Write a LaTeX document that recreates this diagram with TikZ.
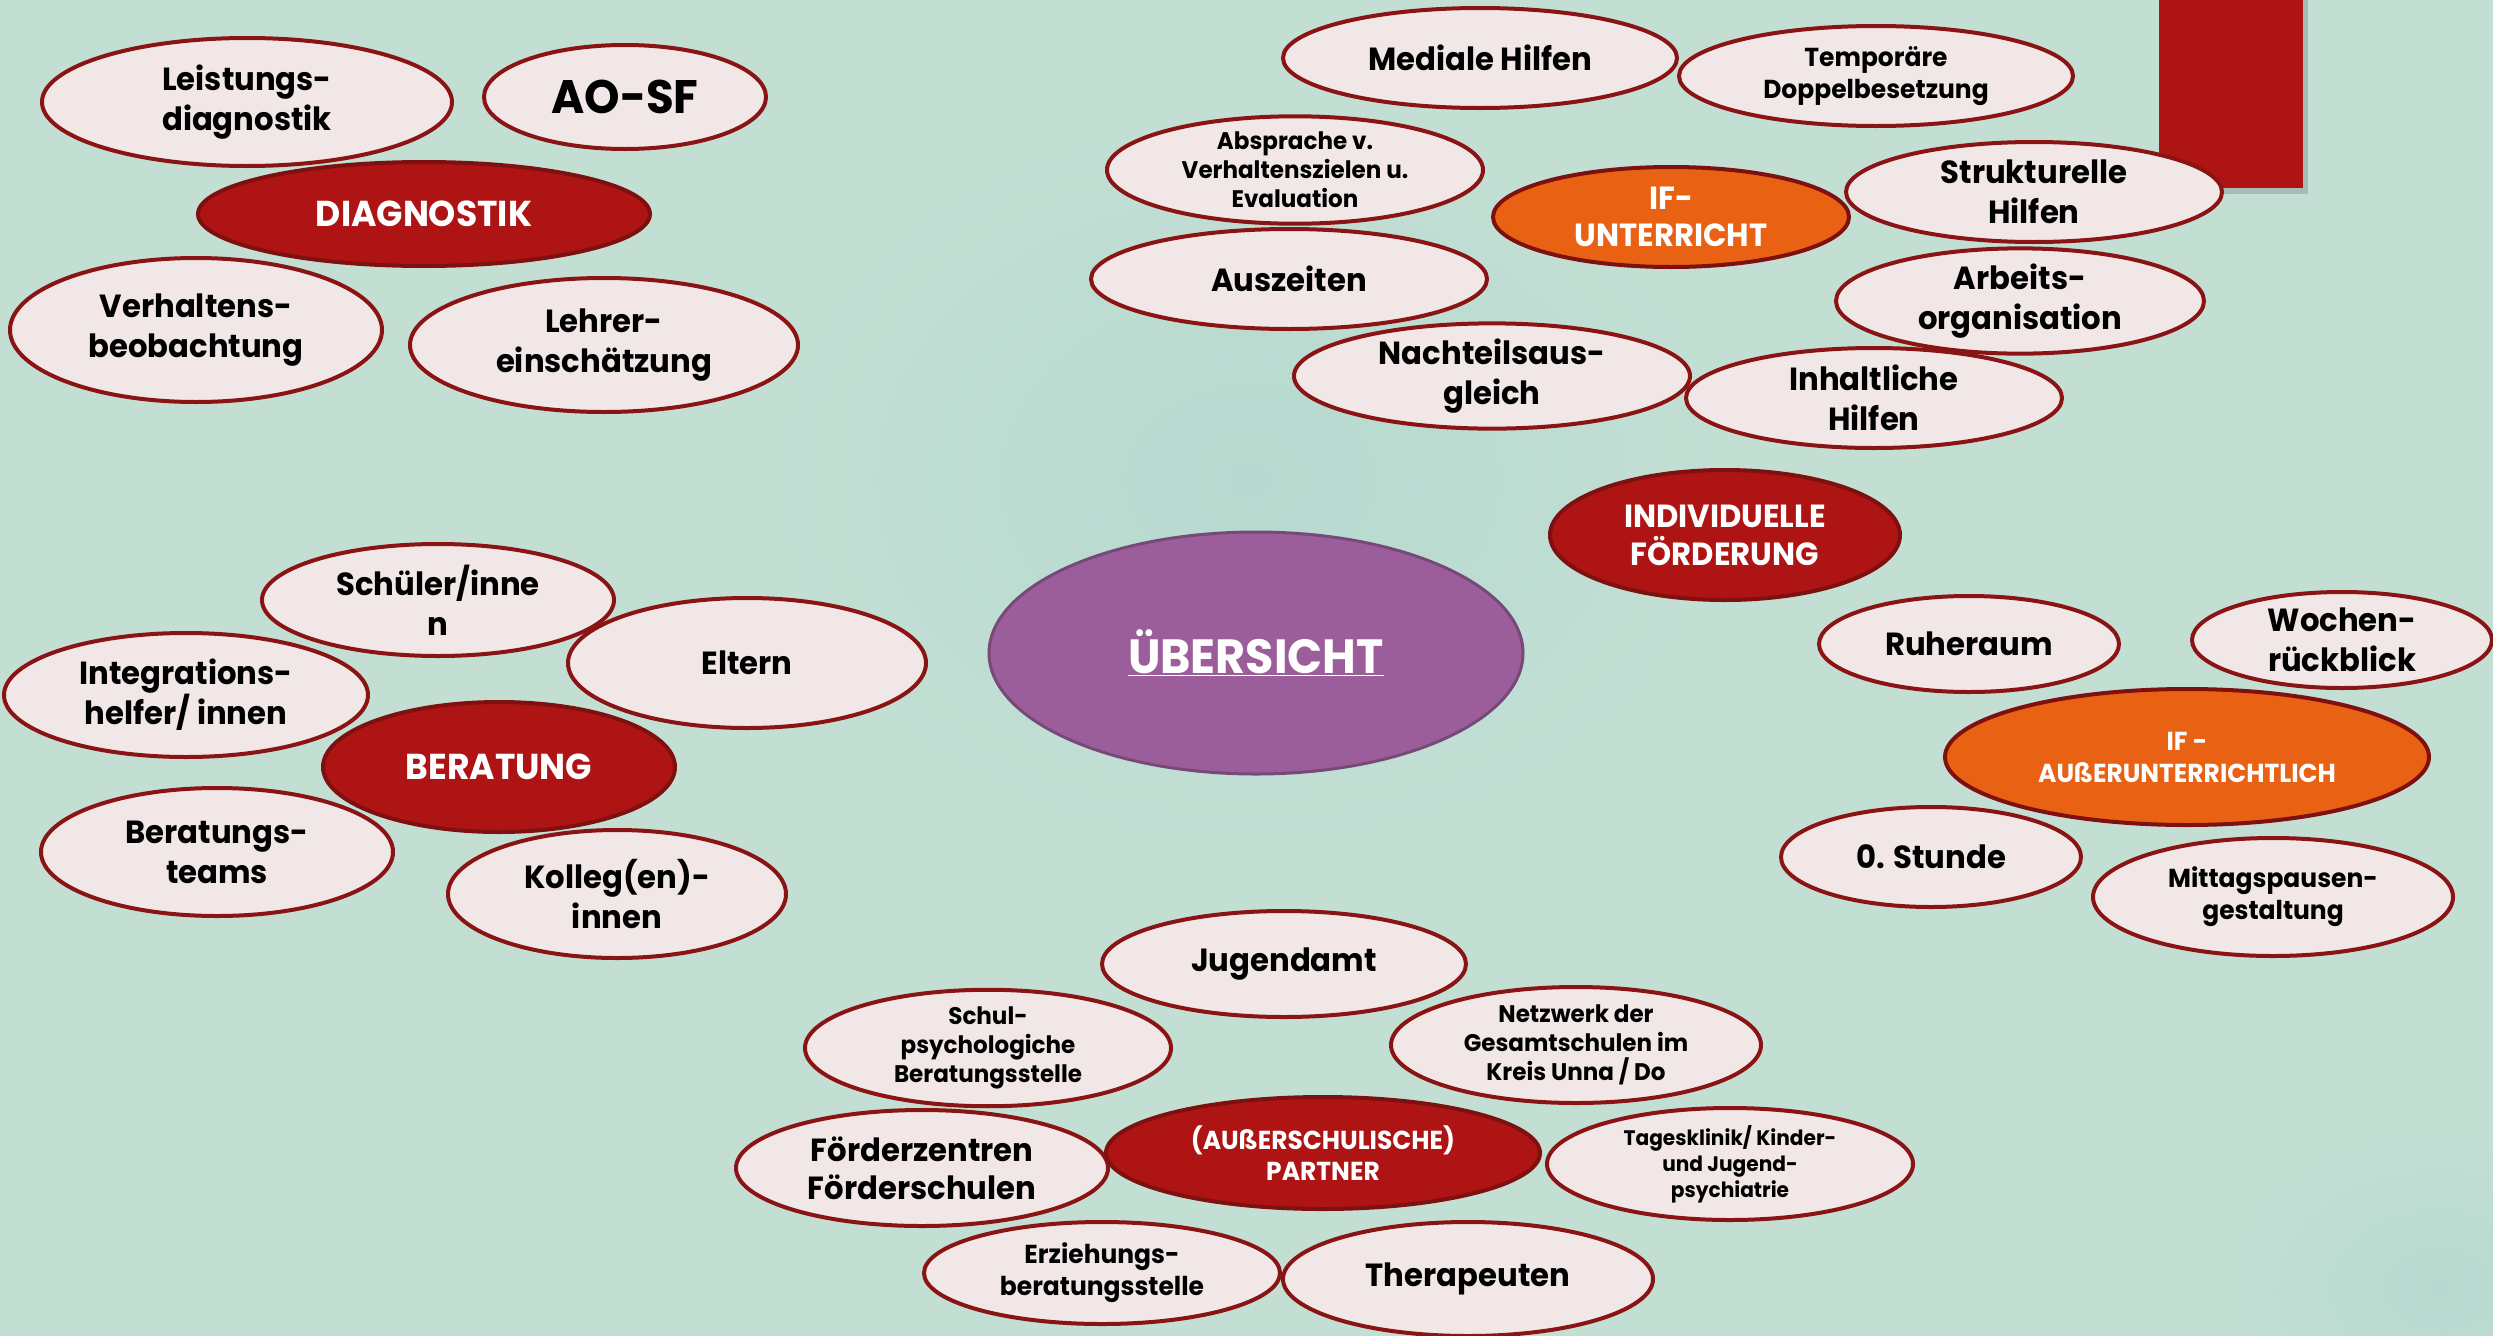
\documentclass[tikz,border=0pt]{standalone}
\usepackage{fontspec}
\setmainfont{Poppins}[FakeStretch=0.96]
\usetikzlibrary{shapes.geometric}
\definecolor{bg}{HTML}{C3DFD4}
\definecolor{bgdark}{HTML}{B6D9CF}
\definecolor{leaffill}{HTML}{F2E7E7}
\definecolor{edge}{HTML}{8A1414}
\definecolor{hubred}{HTML}{AE1414}
\definecolor{hubedge}{HTML}{7E1010}
\definecolor{hubor}{HTML}{E96214}
\definecolor{purp}{HTML}{9C5E9A}
\definecolor{purpedge}{HTML}{764A78}
\tikzset{
  leaf/.style={ellipse, draw=edge, fill=leaffill, line width=4pt, inner sep=0pt, align=center, text=black},
  hub/.style={ellipse, draw=hubedge, fill=hubred, line width=4pt, inner sep=0pt, align=center, text=white},
  ohub/.style={ellipse, draw=hubedge, fill=hubor, line width=4pt, inner sep=0pt, align=center, text=white},
  sz/.style 2 args={minimum width=#1pt, minimum height=#2pt},
  fA/.style={font=\bfseries\fontsize{32}{40}\selectfont},
  fB/.style={font=\bfseries\fontsize{26}{32}\selectfont},
  fC/.style={font=\bfseries\fontsize{24}{29}\selectfont},
  fD/.style={font=\bfseries\fontsize{21}{26}\selectfont},
  fH/.style={font=\bfseries\fontsize{36}{44}\selectfont},
}
\begin{document}
\begin{tikzpicture}[x=1pt,y=-1pt]
\path[use as bounding box, fill=bg] (0,0) rectangle (2493,1336);
% subtle background variation
\shade[inner color=bgdark, outer color=bg] (1250,480) ellipse [x radius=500, y radius=380];
\shade[inner color=bgdark, outer color=bg] (2440,1290) ellipse [x radius=220, y radius=160];
% red bar with shadow
\fill[black, opacity=0.15] (2163,0) rectangle (2308,194);
\fill[hubred] (2159,0) rectangle (2303,188);

% DIAGNOSTIK group
\node[leaf, sz={410}{128}, fA] (leist) at (247,102) {Leistungs-\\diagnostik};
\node[leaf, sz={282}{104}, font=\bfseries\fontsize{47}{56}\selectfont] (aosf) at (625,97) {AO-SF};
\node[leaf, sz={372}{144}, fA] (verh) at (196,330) {Verhaltens-\\beobachtung};
\node[leaf, sz={388}{134}, fA] (lehr) at (604,345) {Lehrer-\\einschätzung};
\node[hub, sz={452}{104}, fH] (diag) at (424,214) {DIAGNOSTIK};

% IF-Unterricht group
\node[leaf, sz={394}{100}, fA] (medi) at (1480,58) {Mediale Hilfen};
\node[leaf, sz={394}{100}, fB] (temp) at (1876,76) {Temporäre\\Doppelbesetzung};
\node[leaf, sz={376}{100}, fC] (absp) at (1295,170) {Absprache v.\\Verhaltenszielen u.\\Evaluation};
\node[leaf, sz={376}{100}, fA] (strk) at (2034,192) {Strukturelle\\Hilfen};
\node[leaf, sz={396}{100}, fA] (ausz) at (1289,279) {Auszeiten};
\node[leaf, sz={368}{100}, fA] (arbe) at (2020,301) {Arbeits-\\organisation};
\node[leaf, sz={396}{100}, fA] (nach) at (1492,376) {Nachteilsaus-\\gleich};
\node[leaf, sz={376}{100}, fA] (inha) at (1874,398) {Inhaltliche\\Hilfen};
\node[ohub, sz={356}{100}, font=\bfseries\fontsize{32}{37}\selectfont] (ifu) at (1671,217) {IF-\\UNTERRICHT};

% Individuelle Foerderung
\node[hub, sz={350}{130}, font=\bfseries\fontsize{32}{38}\selectfont] (indi) at (1725,535) {INDIVIDUELLE\\FÖRDERUNG};

% IF-ausserunterrichtlich group
\node[leaf, sz={300}{96}, fA] (ruhe) at (1969,644) {Ruheraum};
\node[leaf, sz={300}{96}, fA] (woch) at (2342,640) {Wochen-\\rückblick};
\node[leaf, sz={300}{100}, fA] (stun) at (1931,857) {0. Stunde};
\node[leaf, sz={360}{118}, fB] (mitt) at (2273,897) {Mittagspausen-\\gestaltung};
\node[ohub, sz={484}{136}, fB] (ifa) at (2187,757) {IF -\\AUßERUNTERRICHTLICH};

% Uebersicht
\node[ellipse, draw=purpedge, fill=purp, line width=3pt, inner sep=0pt, sz={534}{242}, text=white, font=\bfseries\fontsize{48}{58}\selectfont] (ueber) at (1256,653) {\underline{ÜBERSICHT}};

% Beratung group
\node[leaf, sz={352}{112}, fA] (schu) at (438,600) {Schüler/inne\\n};
\node[leaf, sz={358}{130}, fA] (elte) at (747,663) {Eltern};
\node[leaf, sz={364}{124}, fA] (inte) at (186,695) {Integrations-\\helfer/ innen};
\node[leaf, sz={352}{128}, fA] (btea) at (217,852) {Beratungs-\\teams};
\node[leaf, sz={338}{128}, fA] (koll) at (617,894) {Kolleg(en)-\\innen};
\node[hub, sz={352}{130}, fH] (bera) at (499,767) {BERATUNG};

% Partner group
\node[leaf, sz={364}{106}, fA] (juge) at (1284,964) {Jugendamt};
\node[leaf, sz={366}{112}, fC] (spsy) at (988,1048) {Schul-\\psychologiche\\Beratungsstelle};
\node[leaf, sz={370}{116}, fC] (netz) at (1576,1045) {Netzwerk der\\Gesamtschulen im\\Kreis Unna / Do};
\node[leaf, sz={372}{116}, font=\bfseries\fontsize{32}{38}\selectfont] (foer) at (922,1168) {Förderzentren\\Förderschulen};
\node[leaf, sz={366}{112}, fD] (tage) at (1730,1164) {Tagesklinik/ Kinder-\\und Jugend-\\psychiatrie};
\node[leaf, sz={356}{102}, fB] (erzi) at (1102,1273) {Erziehungs-\\beratungsstelle};
\node[leaf, sz={370}{114}, fA] (ther) at (1468,1279) {Therapeuten};
\node[hub, sz={434}{112}, font=\bfseries\fontsize{26}{31}\selectfont] (part) at (1323,1153) {(AUßERSCHULISCHE)\\PARTNER};
\end{tikzpicture}
\end{document}
